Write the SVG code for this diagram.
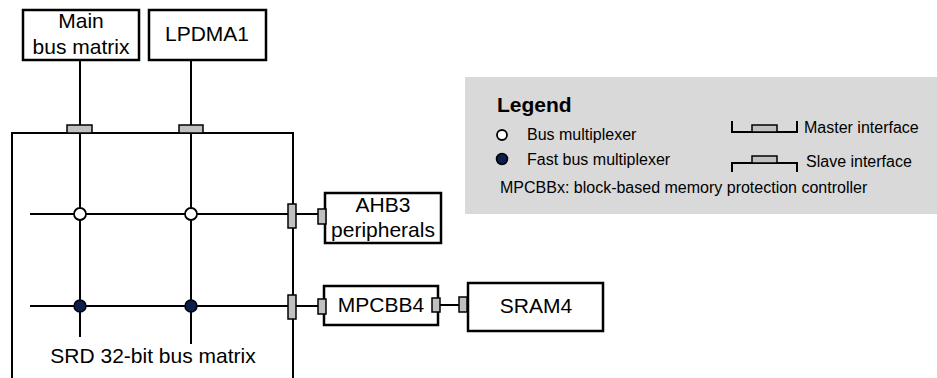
<svg xmlns="http://www.w3.org/2000/svg" width="937" height="378" viewBox="0 0 937 378">
<style>
text{font-family:"Liberation Sans",Arial,sans-serif;fill:#000}
.box{fill:#fff;stroke:#000;stroke-width:2.5}
.ln{stroke:#000;stroke-width:2;fill:none}
.port{fill:#c0c0c0;stroke:#000;stroke-width:1.5}
.t20{font-size:21px;text-anchor:middle}
.t16{font-size:16px}
.mux{fill:#fff;stroke:#000;stroke-width:1.8}
.fmux{fill:#0b1f4d;stroke:#000;stroke-width:1.5}
</style>
<rect width="937" height="378" fill="#fff"/>
<g id="legend">
<rect x="465" y="77" width="472" height="137" fill="#d9d9d9"/>
<text x="497" y="112" style="font-size:21px;font-weight:bold">Legend</text>
<circle cx="502" cy="135" r="5" class="mux"/>
<text x="527" y="140" class="t16">Bus multiplexer</text>
<circle cx="502" cy="159" r="5.5" class="fmux"/>
<text x="527" y="165" class="t16">Fast bus multiplexer</text>
<text x="500" y="193" class="t16">MPCBBx: block-based memory protection controller</text>
<path d="M732,121 V132 H797 V121" class="ln" stroke-width="1.5"/>
<rect x="752" y="125" width="25" height="7" class="port"/>
<text x="804" y="133" class="t16">Master interface</text>
<path d="M732,172 V163 H797 V172" class="ln" stroke-width="1.5"/>
<rect x="752" y="156" width="25" height="7" class="port"/>
<text x="806" y="167" class="t16">Slave interface</text>
</g>
<g id="connectors">
<line x1="80" y1="60" x2="80" y2="337" class="ln"/>
<line x1="191" y1="60" x2="191" y2="344" class="ln"/>
<line x1="30" y1="214" x2="318" y2="214" class="ln"/>
<line x1="30" y1="306" x2="318" y2="306" class="ln"/>
<line x1="440" y1="305" x2="459" y2="305" class="ln"/>
</g>
<g id="srd-matrix">
<path d="M12,378 V133 H293 V378" class="ln" stroke-width="2.5"/>
<rect x="67" y="125" width="25" height="8" class="port"/>
<rect x="179" y="125" width="24" height="8" class="port"/>
<rect x="288" y="204" width="8" height="24" class="port"/>
<rect x="288" y="295" width="8" height="24" class="port"/>
<circle cx="80" cy="214" r="6" class="mux"/>
<circle cx="191" cy="214" r="6" class="mux"/>
<circle cx="80" cy="306" r="6" class="fmux"/>
<circle cx="191" cy="306" r="6" class="fmux"/>
<text x="153" y="363" class="t20">SRD 32-bit bus matrix</text>
</g>
<g id="main-bus-matrix">
<rect x="23" y="10" width="116" height="50" class="box"/>
<text x="81" y="28" class="t20">Main</text>
<text x="81" y="54" class="t20">bus matrix</text>
</g>
<g id="lpdma1">
<rect x="149" y="10" width="117" height="50" class="box"/>
<text x="207" y="41" class="t20">LPDMA1</text>
</g>
<g id="ahb3">
<rect x="325" y="193" width="116" height="50" class="box"/>
<rect x="318" y="209" width="8" height="15" class="port"/>
<text x="383" y="212" class="t20">AHB3</text>
<text x="383" y="237" class="t20">peripherals</text>
</g>
<g id="mpcbb4">
<rect x="324" y="286" width="114" height="39" class="box"/>
<rect x="318" y="299" width="8" height="15" class="port"/>
<rect x="432" y="298" width="8" height="14" class="port"/>
<text x="381" y="312" class="t20">MPCBB4</text>
</g>
<g id="sram4">
<rect x="468" y="283" width="135" height="48" class="box"/>
<rect x="459" y="297" width="8" height="15" class="port"/>
<text x="536" y="313" class="t20">SRAM4</text>
</g>
</svg>
